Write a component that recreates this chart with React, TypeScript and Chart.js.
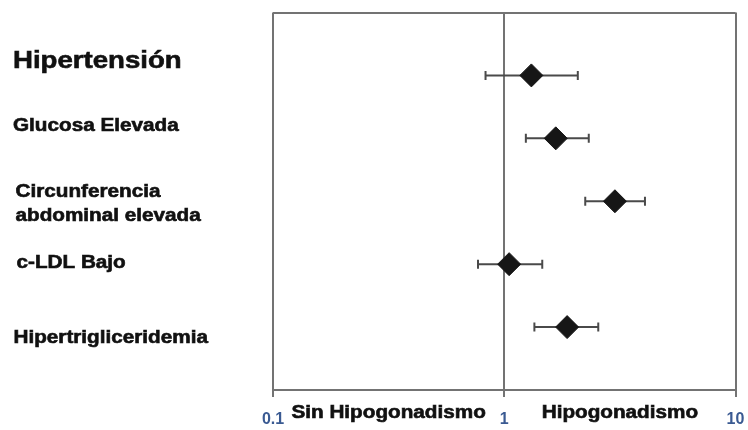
import { useEffect, useRef } from 'react';
import { Chart, registerables } from 'chart.js';

Chart.register(...registerables);

// Rows, top to bottom
const categories: (string | string[])[] = [
  'Hipertensión',
  'Glucosa Elevada',
  ['Circunferencia', 'abdominal elevada'],
  'c-LDL Bajo',
  'Hipertrigliceridemia',
];
const rowPos = [5, 4, 3, 2, 1];

// Odds ratio and 95% confidence interval per row
const oddsRatio = [1.31, 1.67, 3.01, 1.05, 1.87];
const ciLow = [0.83, 1.24, 2.24, 0.77, 1.35];
const ciHigh = [2.08, 2.32, 4.06, 1.46, 2.55];

const xTickValues = [0.1, 1, 10];
const sideLabels = ['Sin Hipogonadismo', 'Hipogonadismo'];

const FONT = '"Liberation Sans", Arial, Helvetica, sans-serif';
const STRETCH = 1.15;
const AXIS_COLOR = '#737373';

// Left-column label layout: x position, baseline offsets from the row centre, font size
const labelLayout = [
  { x: 13, dy: [-7], size: 24 },
  { x: 13, dy: [-7], size: 18 },
  { x: 15.5, dy: [-4.3, 20], size: 18 },
  { x: 16.5, dy: [3.4], size: 18 },
  { x: 13.5, dy: [16], size: 18 },
];

// Heavy bold text, widened horizontally
function drawStretched(ctx: CanvasRenderingContext2D, text: string, x: number, y: number, align: 'left' | 'center') {
  ctx.save();
  ctx.translate(x, y);
  ctx.scale(STRETCH, 1);
  ctx.textAlign = align;
  ctx.textBaseline = 'alphabetic';
  ctx.fillText(text, 0, 0);
  ctx.lineWidth = 0.6;
  ctx.strokeText(text, 0, 0);
  ctx.restore();
}

const labelsPlugin = {
  id: 'forestLabels',
  afterDraw(chart: any) {
    const { ctx, scales } = chart;
    const xs = scales.x;
    const ys = scales.y;
    ctx.save();
    ctx.fillStyle = '#111';
    ctx.strokeStyle = '#111';
    categories.forEach((cat, i) => {
      const lines = Array.isArray(cat) ? cat : [cat];
      const lay = labelLayout[i];
      const yc = ys.getPixelForValue(rowPos[i]);
      ctx.font = `bold ${lay.size}px ${FONT}`;
      lines.forEach((line, j) => drawStretched(ctx, line, lay.x, yc + lay.dy[j], 'left'));
    });
    ctx.font = `bold 18px ${FONT}`;
    const base = chart.chartArea.bottom + 28;
    sideLabels.forEach((t, i) => {
      const mid = Math.sqrt(xTickValues[i] * xTickValues[i + 1]);
      drawStretched(ctx, t, xs.getPixelForValue(mid), base, 'center');
    });
    ctx.restore();
  },
};

export default function App() {
  const ref = useRef<HTMLCanvasElement>(null);

  useEffect(() => {
    if (!ref.current) return;
    const errorSets = rowPos.map((y, i) => ({
      type: 'scatter' as const,
      data: [
        { x: ciLow[i], y },
        { x: ciHigh[i], y },
      ],
      showLine: true,
      borderColor: '#4a4a4a',
      borderWidth: 2,
      pointStyle: 'line' as const,
      rotation: 90,
      pointRadius: 4.5,
      pointBorderColor: '#4a4a4a',
      pointBorderWidth: 2,
      order: 2,
    }));
    const chart = new Chart(ref.current, {
      type: 'scatter',
      data: {
        datasets: [
          {
            data: rowPos.map((y, i) => ({ x: oddsRatio[i], y })),
            pointStyle: 'rectRot',
            pointRadius: 11.5,
            backgroundColor: '#161616',
            borderColor: '#161616',
            pointBorderWidth: 1,
            order: 1,
          },
          ...errorSets,
        ],
      },
      options: {
        animation: false,
        responsive: true,
        maintainAspectRatio: false,
        layout: { padding: { left: 273, right: 11, top: 11, bottom: 0 } },
        plugins: { legend: { display: false }, tooltip: { enabled: false } },
        scales: {
          x: {
            type: 'logarithmic',
            min: 0.1,
            max: 10,
            afterBuildTicks: (s: any) => {
              s.ticks = xTickValues.map((value) => ({ value }));
            },
            afterFit: (s: any) => {
              s.height = 40;
              s.paddingLeft = 0;
              s.paddingRight = 0;
            },
            grid: { color: AXIS_COLOR, lineWidth: 2, tickLength: 7, drawOnChartArea: true },
            border: { display: true, color: AXIS_COLOR, width: 2 },
            ticks: {
              color: '#3a5a92',
              font: { family: FONT, size: 16, weight: 'bold' },
              padding: 13,
              maxRotation: 0,
              callback: (v: any) => String(v),
            },
          },
          y: {
            type: 'linear',
            min: 0,
            max: 6,
            afterBuildTicks: (s: any) => {
              s.ticks = [{ value: 0 }, { value: 6 }];
            },
            afterFit: (s: any) => {
              s.width = 0;
              s.paddingTop = 0;
              s.paddingBottom = 0;
            },
            grid: { color: AXIS_COLOR, lineWidth: 2, drawTicks: false },
            border: { display: false },
            ticks: { display: false },
          },
        },
      },
      plugins: [labelsPlugin],
    });
    return () => chart.destroy();
  }, []);

  return (
    <div style={{ position: 'absolute', left: 0, top: 0, width: 748, height: 430, background: '#fff' }}>
      <canvas ref={ref} />
    </div>
  );
}
